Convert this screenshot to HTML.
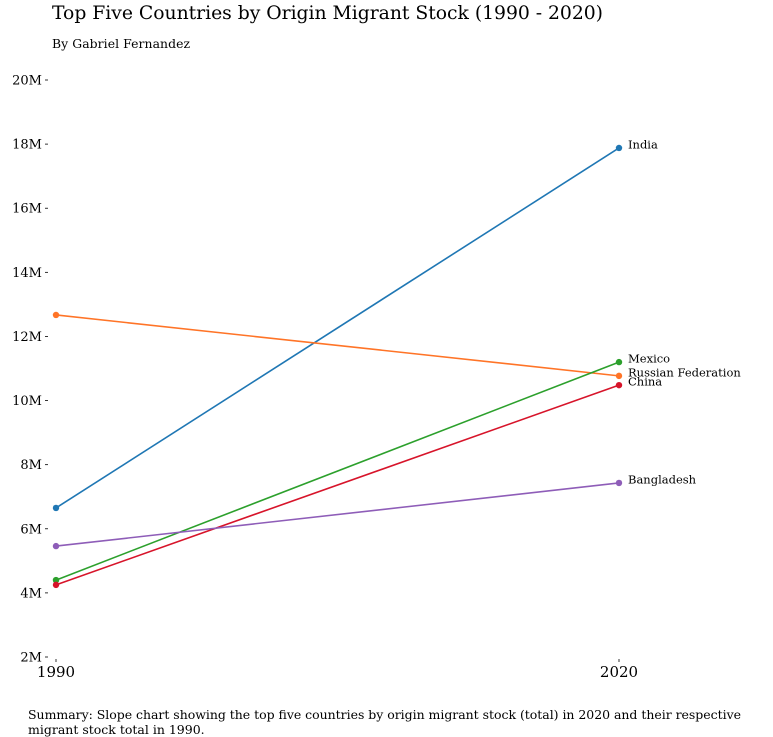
<!DOCTYPE html>
<html><head><meta charset="utf-8"><style>
html,body{margin:0;padding:0;background:#fff;}
svg{display:block;font-family:"DejaVu Serif","Liberation Serif",serif;}
</style></head><body>
<svg id="chart" width="773" height="737">
<text x="52" y="19" font-size="18.8" fill="#000" textLength="551">Top Five Countries by Origin Migrant Stock (1990 - 2020)</text>
<text x="52" y="48" font-size="12.4" fill="#000" textLength="138">By Gabriel Fernandez</text>
<text x="28" y="719" font-size="12.5" fill="#000" textLength="713">Summary: Slope chart showing the top five countries by origin migrant stock (total) in 2020 and their respective</text>
<text x="28" y="734" font-size="12.5" fill="#000">migrant stock total in 1990.</text>
<g id="axes"></g>
<g id="series"></g>
</svg>
<script>
const years = [1990, 2020];
const countries = ["India", "Russian Federation", "Mexico", "China", "Bangladesh"];
const val1990 = [6.65, 12.67, 4.40, 4.25, 5.46];
const val2020 = [17.88, 10.77, 11.20, 10.48, 7.43];
const colors = ["#1f77b4", "#ff7427", "#2ca02c", "#d7142a", "#8e5db8"];
const yTicks = [2, 4, 6, 8, 10, 12, 14, 16, 18, 20];
const yTickLabels = ["2M", "4M", "6M", "8M", "10M", "12M", "14M", "16M", "18M", "20M"];

const NS = "http://www.w3.org/2000/svg";
function xScale(yr){ return 56 + (yr - 1990) / 30 * (619 - 56); }
function yScale(v){ return 657 - (v - 2) / 18 * (657 - 80); }
function mk(tag, attrs, parent){
  const e = document.createElementNS(NS, tag);
  for (const k in attrs) e.setAttribute(k, attrs[k]);
  parent.appendChild(e); return e;
}
const axes = document.getElementById("axes");
yTicks.forEach((t, i) => {
  const y = yScale(t);
  const tk = mk("line", {x1: 45, x2: 48, y1: y, y2: y, stroke: "#000", "stroke-width": 0.8}, axes);
  
  
  const tx = mk("text", {x: 42, y: y + 4.5, "font-size": 13, "text-anchor": "end", fill: "#000"}, axes);
  tx.textContent = yTickLabels[i];
  
  
});
years.forEach(yr => {
  const x = xScale(yr);
  const tk = mk("line", {x1: x, x2: x, y1: 659, y2: 662, stroke: "#000", "stroke-width": 0.8}, axes);
  
  
  const tx = mk("text", {x: x, y: 677, "font-size": 15, "text-anchor": "middle", fill: "#000"}, axes);
  tx.textContent = yr;
  
  
});
const series = document.getElementById("series");
countries.forEach((c, i) => {
  const x1 = xScale(years[0]), x2 = xScale(years[1]);
  const y1 = yScale(val1990[i]), y2 = yScale(val2020[i]);
  const ln = mk("line", {x1: x1, y1: y1, x2: x2, y2: y2, stroke: colors[i], "stroke-width": 1.6}, series);
  
  
  [[x1, y1], [x2, y2]].forEach(p => {
    const d = mk("circle", {cx: p[0], cy: p[1], r: 3.2, fill: colors[i]}, series);
    
    
  });
  const t = mk("text", {x: x2 + 9, y: y2 + 0.5, "font-size": 11.5, fill: "#000"}, series);
  t.textContent = c;
  
  
});
</script>
</body></html>
